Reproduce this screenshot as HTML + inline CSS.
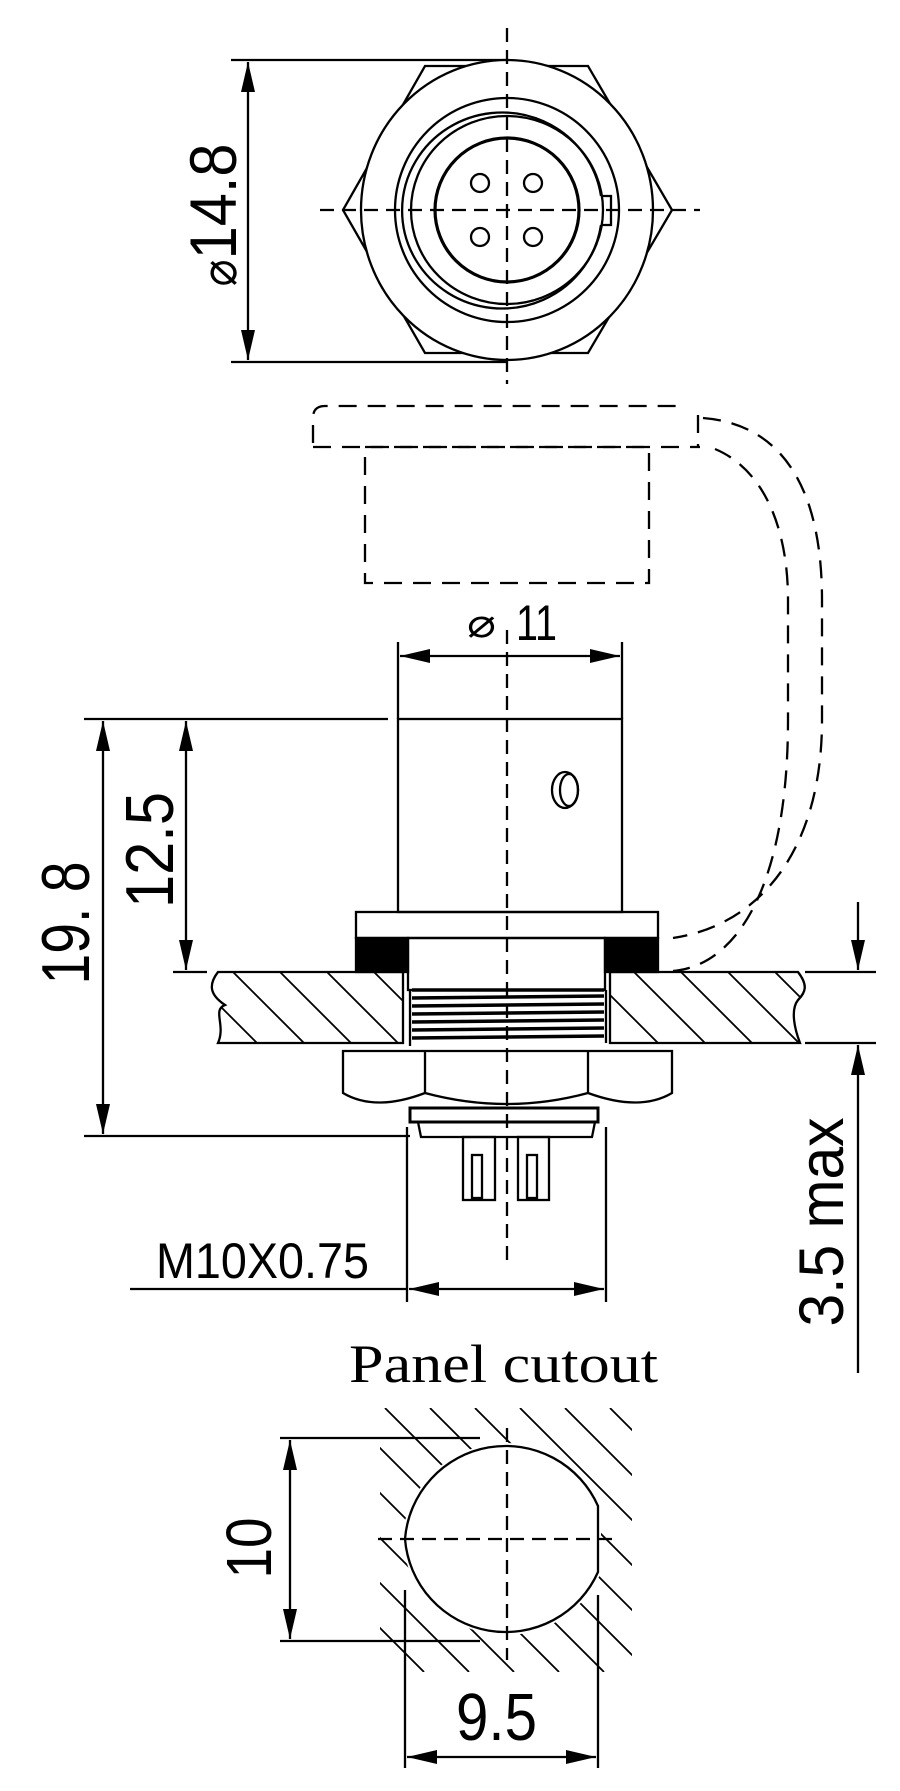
<!DOCTYPE html>
<html><head><meta charset="utf-8"><style>html,body{margin:0;padding:0;background:#fff}svg{display:block}</style></head>
<body>
<svg xmlns="http://www.w3.org/2000/svg" width="900" height="1791" viewBox="0 0 900 1791">
<defs>
<marker id="ar" viewBox="0 0 30 14" refX="30" refY="7" markerWidth="30" markerHeight="14" markerUnits="userSpaceOnUse" orient="auto-start-reverse"><path d="M0,0 L30,7 L0,14 Z" fill="#000"/></marker>
<clipPath id="cpL"><path d="M218,972 L403,972 L403,1043 L218,1043 C226,1025 212,1010 225,1005 C210,995 208,985 218,972 Z"/></clipPath>
<clipPath id="cpR"><path d="M610,972 L798,972 C808,985 806,992 798,1000 C790,1010 795,1030 800,1043 L610,1043 Z"/></clipPath>
<mask id="mk"><rect x="0" y="1400" width="900" height="300" fill="#fff"/><path d="M405,1539 A101,101 0 0 1 598,1506 L598,1572 A101,101 0 0 1 405,1539 Z" fill="#000" stroke="#000" stroke-width="6"/></mask>
<clipPath id="cpH"><rect x="380" y="1408" width="252" height="264"/></clipPath>
</defs>
<g fill="none" stroke="#000" stroke-width="2.3">
<line x1="231" y1="60" x2="507" y2="60"/>
<line x1="231" y1="362" x2="507" y2="362"/>
<line x1="248" y1="62" x2="248" y2="360" marker-start="url(#ar)" marker-end="url(#ar)"/>
<polygon points="425,66 588,66 672,210 588,353 425,353 343,210"/>
<ellipse cx="507" cy="210" rx="146" ry="150" fill="#fff"/>
<circle cx="507" cy="210" r="112"/>
<path d="M601,196 A100,98 0 1 0 601,225"/>
<path d="M601,196 L611,196 L611,225 L601,225"/>
<ellipse cx="507" cy="210" rx="96" ry="94"/>
<circle cx="507" cy="210" r="72" stroke-width="3.2"/>
<circle cx="480" cy="183" r="9"/><circle cx="533" cy="183" r="9"/>
<circle cx="480" cy="237" r="9"/><circle cx="533" cy="237" r="9"/>
<line x1="507" y1="28" x2="507" y2="384" stroke-dasharray="14 8"/>
<line x1="320" y1="210" x2="700" y2="210" stroke-dasharray="14 8"/>
<g stroke-dasharray="18 11">
<path d="M313,443 L313,418 Q313,406 325,406 L683,406"/>
<line x1="313" y1="447" x2="700" y2="447"/>
<line x1="698" y1="415" x2="698" y2="447"/>
<rect x="365" y="447" width="284" height="136"/>
<path d="M703,418 C790,425 822,500 822,600 L822,720 C822,850 760,925 673,938"/>
<path d="M715,449 C765,470 788,530 788,600 L788,720 C788,880 740,965 673,971"/>
</g>
<line x1="398" y1="642" x2="398" y2="719"/>
<line x1="622" y1="642" x2="622" y2="719"/>
<line x1="400" y1="656" x2="620" y2="656" marker-start="url(#ar)" marker-end="url(#ar)"/>
<line x1="84" y1="719" x2="388" y2="719"/>
<line x1="103" y1="721" x2="103" y2="1134" marker-start="url(#ar)" marker-end="url(#ar)"/>
<line x1="186" y1="721" x2="186" y2="970" marker-start="url(#ar)" marker-end="url(#ar)"/>
<line x1="173" y1="972" x2="207" y2="972"/>
<line x1="84" y1="1136" x2="410" y2="1136"/>
<rect x="398" y="719" width="224" height="193"/>
<ellipse cx="565" cy="790" rx="13" ry="18"/>
<ellipse cx="569" cy="790" rx="9" ry="16"/>
<rect x="356" y="912" width="302" height="26"/>
<rect x="356" y="938" width="52" height="34" fill="#000"/>
<rect x="605" y="938" width="53" height="34" fill="#000"/>
<rect x="408" y="938" width="197" height="52"/>
<path d="M218,972 L403,972 L403,1043 L218,1043 C226,1025 212,1010 225,1005 C210,995 208,985 218,972 Z"/>
<path d="M610,972 L798,972 C808,985 806,992 798,1000 C790,1010 795,1030 800,1043 L610,1043 Z"/>
<g clip-path="url(#cpL)" stroke-width="1.8">
<path d="M92,972 l71,71 M139,972 l71,71 M186,972 l71,71 M233,972 l71,71 M280,972 l71,71 M327,972 l71,71 M374,972 l71,71"/>
</g>
<g clip-path="url(#cpR)" stroke-width="1.8">
<path d="M540,972 l71,71 M587,972 l71,71 M634,972 l71,71 M681,972 l71,71 M728,972 l71,71 M775,972 l71,71"/>
</g>
<line x1="805" y1="972" x2="876" y2="972"/>
<line x1="805" y1="1043" x2="876" y2="1043"/>
<line x1="858" y1="902" x2="858" y2="970" marker-end="url(#ar)"/>
<line x1="858" y1="1373" x2="858" y2="1045" marker-end="url(#ar)"/>
<g stroke-width="3.5">
<path d="M412,990 L604,990 M412,998 L604,996 M412,1006 L604,1004 M412,1014 L604,1012 M412,1022 L604,1020 M412,1030 L604,1028 M412,1038 L604,1036"/>
</g>
<line x1="606" y1="990" x2="606" y2="1043"/>
<line x1="410" y1="990" x2="410" y2="1046"/>
<path d="M343,1051 L672,1051 L672,1093 Q640,1112 588,1093 Q507,1115 425,1093 Q375,1112 343,1093 Z"/>
<line x1="425" y1="1051" x2="425" y2="1093"/>
<line x1="588" y1="1051" x2="588" y2="1093"/>
<path d="M410,1108 L598,1108 L598,1122 L410,1122 Z" stroke-width="3"/>
<path d="M418,1122 L595,1122 L592,1137 L421,1137 Z"/>
<rect x="463" y="1137" width="32" height="63"/>
<rect x="518" y="1137" width="31" height="63"/>
<rect x="472" y="1155" width="10" height="43"/>
<rect x="527" y="1155" width="10" height="43"/>
<line x1="507" y1="630" x2="507" y2="1260" stroke-dasharray="14 8"/>
<line x1="407" y1="1127" x2="407" y2="1302"/>
<line x1="606" y1="1127" x2="606" y2="1302"/>
<line x1="130" y1="1289" x2="407" y2="1289"/>
<line x1="409" y1="1289" x2="604" y2="1289" marker-start="url(#ar)" marker-end="url(#ar)"/>
<g mask="url(#mk)" clip-path="url(#cpH)" stroke-width="1.8">
<path d="M160,1408 l264,264 M205,1408 l264,264 M250,1408 l264,264 M295,1408 l264,264 M340,1408 l264,264 M385,1408 l264,264 M430,1408 l264,264 M475,1408 l264,264 M520,1408 l264,264 M565,1408 l264,264 M610,1408 l264,264"/>
</g>
<path d="M405,1539 A101,101 0 0 1 598,1506 L598,1572 A101,101 0 0 1 405,1539 Z"/>
<line x1="280" y1="1438" x2="480" y2="1438"/>
<line x1="280" y1="1641" x2="480" y2="1641"/>
<line x1="290" y1="1440" x2="290" y2="1639" marker-start="url(#ar)" marker-end="url(#ar)"/>
<line x1="405" y1="1590" x2="405" y2="1768"/>
<line x1="598" y1="1595" x2="598" y2="1768"/>
<line x1="407" y1="1757" x2="596" y2="1757" marker-start="url(#ar)" marker-end="url(#ar)"/>
<line x1="378" y1="1539" x2="620" y2="1539" stroke-dasharray="14 8"/>
<line x1="507" y1="1428" x2="507" y2="1660" stroke-dasharray="14 8"/>
</g>
<g font-family="Liberation Sans, sans-serif" fill="#000">
<text transform="translate(213,215) rotate(-90)" y="23" font-size="66" text-anchor="middle" textLength="143" lengthAdjust="spacingAndGlyphs"><tspan font-size="50">⌀</tspan>14.8</text>
<text x="467" y="637" font-size="40" textLength="29" lengthAdjust="spacingAndGlyphs">⌀</text>
<text x="516" y="640" font-size="50" textLength="41" lengthAdjust="spacingAndGlyphs">11</text>
<text transform="translate(65,923) rotate(-90)" y="24" font-size="68" text-anchor="middle" textLength="123" lengthAdjust="spacingAndGlyphs">19. 8</text>
<text transform="translate(149,850) rotate(-90)" y="24" font-size="68" text-anchor="middle" textLength="116" lengthAdjust="spacingAndGlyphs">12.5</text>
<text transform="translate(820,1222) rotate(-90)" y="23" font-size="63" text-anchor="middle" textLength="209" lengthAdjust="spacingAndGlyphs">3.5 max</text>
<text x="156" y="1278" font-size="50" textLength="213" lengthAdjust="spacingAndGlyphs">M10X0.75</text>
<text transform="translate(248,1548) rotate(-90)" y="23" font-size="64" text-anchor="middle" textLength="61" lengthAdjust="spacingAndGlyphs">10</text>
<text x="456" y="1740" font-size="67" textLength="81" lengthAdjust="spacingAndGlyphs">9.5</text>
<text x="349" y="1382" font-family="Liberation Serif, serif" font-size="54" textLength="309" lengthAdjust="spacingAndGlyphs">Panel cutout</text>
</g>
</svg>
</body></html>
